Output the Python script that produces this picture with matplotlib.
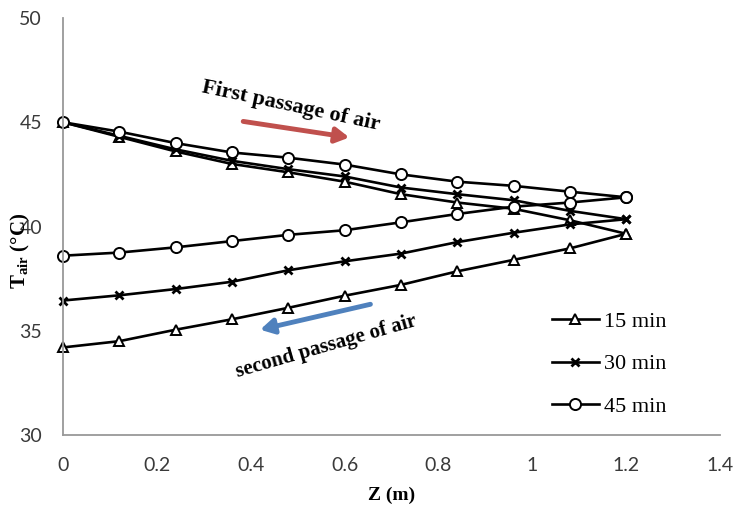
import matplotlib
matplotlib.use("Agg")
import matplotlib.pyplot as plt

# Axial positions along the collector (m)
z = [0.0, 0.12, 0.24, 0.36, 0.48, 0.6, 0.72, 0.84, 0.96, 1.08, 1.2]

# Air temperature (degC), first passage (z increasing)
t15_first = [45.0, 44.3, 43.6, 43.0, 42.6, 42.15, 41.55, 41.15, 40.85, 40.3, 39.65]
t30_first = [45.0, 44.35, 43.7, 43.15, 42.75, 42.4, 41.87, 41.55, 41.26, 40.75, 40.35]
t45_first = [45.0, 44.55, 44.0, 43.55, 43.3, 42.97, 42.5, 42.15, 41.95, 41.67, 41.4]

# Air temperature (degC), second passage (listed for z increasing)
t15_second = [34.2, 34.5, 35.05, 35.55, 36.1, 36.68, 37.2, 37.85, 38.4, 38.95, 39.65]
t30_second = [36.45, 36.7, 37.0, 37.35, 37.9, 38.33, 38.7, 39.25, 39.7, 40.1, 40.35]
t45_second = [38.6, 38.75, 39.0, 39.3, 39.6, 39.82, 40.2, 40.6, 40.95, 41.15, 41.4]

labels = ["15 min", "30 min", "45 min"]
y_ticks = [30, 35, 40, 45, 50]
x_ticks = [0, 0.2, 0.4, 0.6, 0.8, 1.0, 1.2, 1.4]
x_tick_labels = ["0", "0.2", "0.4", "0.6", "0.8", "1", "1.2", "1.4"]

plt.rcParams["mathtext.fontset"] = "custom"
plt.rcParams["mathtext.rm"] = "Liberation Serif"
plt.rcParams["mathtext.bf"] = "Liberation Serif:bold"

fig = plt.figure(figsize=(7.35, 5.07), dpi=100)
ax = fig.add_axes([0.0857, 0.142, 0.894, 0.8225])

# each run goes out along z and comes back, so join both passages
path_z = z + z[::-1]
styles = [
    dict(marker="^", markersize=7, markerfacecolor="white"),
    dict(marker="x", markersize=6, markeredgewidth=2.0),
    dict(marker="o", markersize=8, markerfacecolor="white"),
]
series = [(t15_first, t15_second), (t30_first, t30_second), (t45_first, t45_second)]
for (first, second), st, lab in zip(series, styles, labels):
    ax.plot(path_z, first + second[::-1], color="black", linewidth=1.9,
            markeredgecolor="black", markeredgewidth=st.pop("markeredgewidth", 1.4),
            label=lab, clip_on=False, **st)

ax.set_xlim(0, 1.4)
ax.set_ylim(30, 50)
ax.set_xticks(x_ticks)
ax.set_xticklabels(x_tick_labels)
ax.set_yticks(y_ticks)
ax.tick_params(length=0, labelsize=14, labelcolor="#3a3a3a")
ax.tick_params(axis="x", pad=16)
ax.tick_params(axis="y", pad=15)
for lbl in ax.get_xticklabels() + ax.get_yticklabels():
    lbl.set_family("Lato")

for side in ["top", "right"]:
    ax.spines[side].set_visible(False)
for side in ["left", "bottom"]:
    ax.spines[side].set_color("#999999")
    ax.spines[side].set_linewidth(1.3)

ax.set_xlabel("Z (m)", fontfamily="Liberation Serif", fontweight="bold",
              fontsize=14, labelpad=9)
ax.set_ylabel(r"$\mathbf{T}_{\mathbf{air}}$ (°C)", fontfamily="Liberation Serif",
              fontweight="bold", fontsize=15)
ax.yaxis.label.set_verticalalignment("center")
ax.yaxis.set_label_coords(-0.064, 0.441)

# flow direction notes
ax.text(0.485, 45.76, "First passage of air", rotation=-12, ha="center", va="center",
        fontfamily="Liberation Serif", fontweight="bold", fontsize=16)
ax.annotate("", xy=(0.61, 44.27), xytext=(0.384, 45.04),
            arrowprops=dict(arrowstyle="-|>,head_length=0.8,head_width=0.45",
                            color="#c0504d", lw=3.5, shrinkA=0, shrinkB=0))
ax.text(0.561, 34.24, "second passage of air", rotation=16, ha="center", va="center",
        fontfamily="Liberation Serif", fontweight="bold", fontsize=15)
ax.annotate("", xy=(0.42, 35.05), xytext=(0.655, 36.27),
            arrowprops=dict(arrowstyle="-|>,head_length=0.8,head_width=0.45",
                            color="#4f81bd", lw=3.5, shrinkA=0, shrinkB=0))

ax.legend(loc="center left", bbox_to_anchor=(0.744, 0.17), frameon=False,
          prop=dict(family="Liberation Serif", size=16), handlelength=2.1,
          handletextpad=0.25, labelspacing=1.0, borderpad=0, borderaxespad=0,
          numpoints=1)

fig.savefig("out.png", dpi=100)
